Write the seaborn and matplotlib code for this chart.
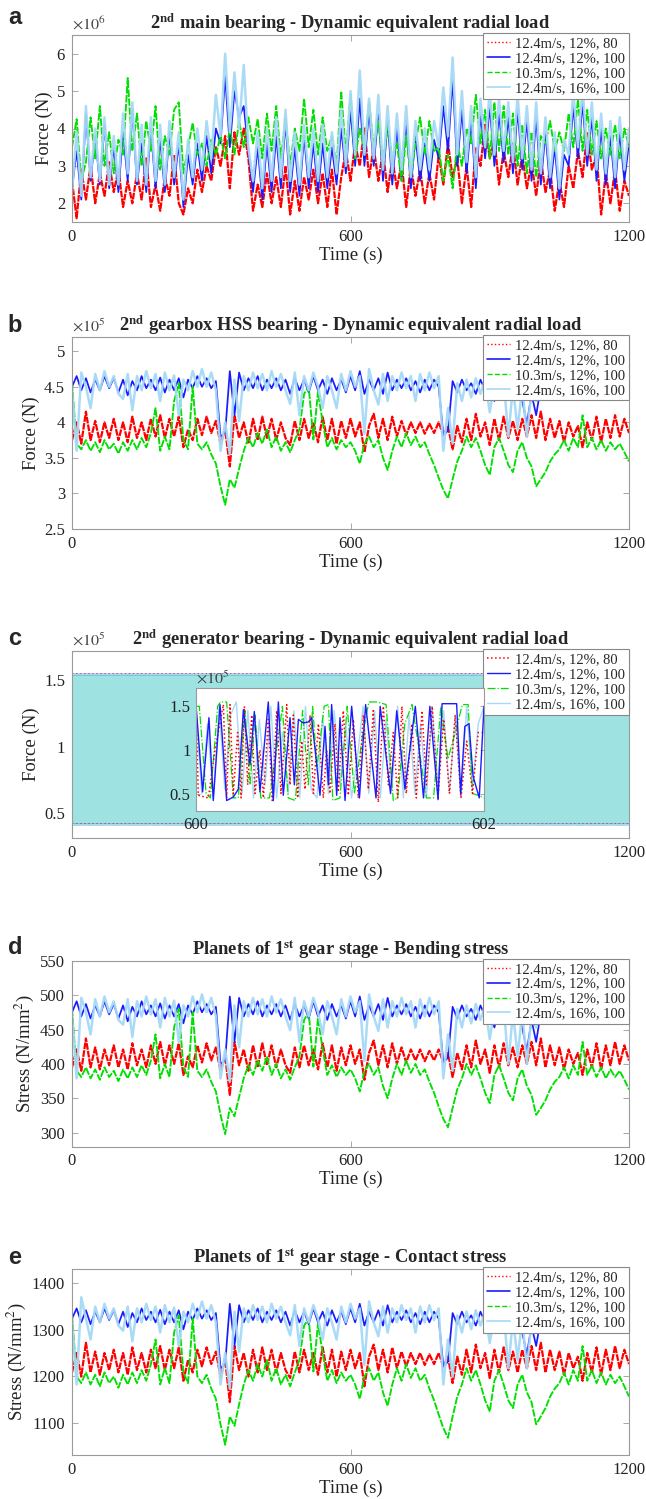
import numpy as np
import seaborn as sns
import matplotlib
matplotlib.use("Agg")
import matplotlib.pyplot as plt
from matplotlib.ticker import FuncFormatter
from matplotlib.lines import Line2D

sns.set_style("ticks")
plt.rcParams['font.family'] = ['Liberation Serif', 'DejaVu Serif']
plt.rcParams['mathtext.fontset'] = 'stix'

# ---------------- data ----------------
time_s = np.arange(0, 1201, 10)          # sampling grid (s)
series_labels = ["12.4m/s, 12%, 80", "12.4m/s, 12%, 100",
                 "10.3m/s, 12%, 100", "12.4m/s, 16%, 100"]

# (a) 2nd main bearing, x1e6 N
a_red = [2.6,1.6,2.9,2.1,3.0,2.0,2.8,2.2,3.1,2.3, 2.9,1.9,2.6,2.0,2.8,2.1,3.2,1.9,2.5,1.8,
         2.7,2.2,3.3,2.0,1.7,2.4,2.0,2.9,2.3,3.0, 2.6,3.5,3.0,3.8,2.4,3.9,3.3,4.0,3.2,1.8,
         2.5,1.9,2.8,2.0,2.7,1.9,3.0,1.7,2.6,1.8, 2.7,2.1,2.9,2.0,2.8,1.9,2.9,1.7,2.7,3.4,
         2.6,3.6,3.0,4.0,2.7,3.5,2.6,3.4,2.3,3.2, 2.4,3.1,1.9,3.0,2.2,2.9,2.0,2.8,2.1,3.3,
         2.5,3.6,2.7,3.2,2.0,3.0,1.9,3.5,3.0,4.1, 3.2,3.7,2.5,3.4,2.7,3.6,2.5,3.3,2.4,3.1,
         2.2,3.2,2.3,2.9,1.8,2.6,1.9,3.0,2.4,3.4, 2.7,3.9,2.9,3.3,1.7,2.8,2.0,2.9,1.8,2.6,
         2.2]
a_blue = [2.4,3.4,2.1,4.4,2.6,3.8,2.5,4.1,2.4,3.5, 2.3,3.9,2.6,4.5,2.5,3.6,2.3,4.0,2.4,3.7,
          2.3,3.9,2.5,3.6,1.9,3.3,2.5,3.6,2.6,3.8, 2.8,4.0,3.6,5.4,3.5,5.0,4.3,4.6,3.4,2.3,
          3.5,2.1,3.6,2.3,3.8,2.4,4.2,2.3,3.5,2.2, 3.8,2.4,3.6,2.3,3.6,2.4,3.5,2.5,4.0,2.8,
          4.5,3.0,4.8,3.0,4.5,3.0,4.4,2.6,4.2,2.5, 4.0,2.6,4.2,2.4,3.8,2.6,3.6,2.6,3.7,3.2,
          4.6,3.4,5.3,3.0,4.5,2.8,4.2,2.4,4.4,3.2, 4.6,3.0,4.4,3.1,4.3,2.8,4.5,2.9,4.2,2.6,
          4.3,2.5,3.9,2.4,3.5,2.1,3.3,3.0,4.6,3.2, 4.7,3.0,4.3,2.6,4.0,2.5,3.8,2.4,3.9,2.6,
          3.6]
a_green = [3.5,4.25,2.6,3.1,4.3,3.2,4.6,3.0,3.9,2.8, 3.7,3.3,5.35,3.4,4.4,3.0,4.2,3.4,4.6,2.9,
           3.8,3.3,4.5,4.7,2.8,3.5,4.15,3.3,3.6,3.0, 3.7,3.3,3.8,3.2,4.0,3.3,4.2,3.5,4.3,3.6,
           4.25,3.2,4.4,3.4,4.6,3.2,4.3,3.0,4.0,3.4, 4.8,3.5,4.5,3.3,4.3,3.4,3.8,3.0,5.0,3.3,
           4.9,3.2,4.0,3.4,4.7,3.5,4.2,3.0,4.1,3.2, 3.6,2.6,3.8,2.7,3.6,4.3,3.3,4.2,3.4,3.5,
           2.6,3.3,2.4,3.6,3.0,4.0,3.6,4.9,3.6,4.5, 3.2,4.7,3.4,4.6,3.3,4.4,3.0,4.1,2.8,3.9,
           2.7,3.8,3.6,4.2,3.4,3.9,3.4,4.4,3.5,4.77, 3.4,4.5,3.3,4.2,3.2,4.0,3.3,4.1,3.2,4.0,
           3.5]
a_cyan = [2.3,3.9,2.2,4.6,2.7,4.0,2.6,4.3,2.5,3.8, 2.5,4.4,2.8,4.7,2.6,4.1,2.5,4.3,2.6,4.1,
          2.5,4.2,2.7,3.9,2.1,3.7,2.7,4.0,2.9,4.2, 3.2,4.9,3.8,6.0,3.9,5.5,4.0,5.7,3.5,2.6,
          3.9,2.4,4.0,2.6,4.3,2.7,4.5,2.6,3.9,2.5, 4.1,2.7,4.0,2.6,4.1,2.7,3.9,2.8,4.5,3.0,
          5.0,3.3,5.55,3.3,4.8,3.2,4.9,2.9,4.6,2.8, 4.4,2.9,4.6,2.7,4.2,2.9,4.0,2.9,4.2,3.5,
          5.1,3.8,5.9,3.3,5.0,3.1,4.6,2.7,4.8,3.5, 5.0,3.3,4.8,3.4,4.7,3.1,4.9,3.2,4.6,2.9,
          4.7,2.8,4.3,2.7,3.9,2.4,3.7,3.3,5.0,3.5, 5.1,3.3,4.7,2.9,4.4,2.8,4.2,2.7,4.3,2.9,
          4.0]

# (b) 2nd gearbox HSS bearing, x1e5 N
b_red = [3.75,4.0,3.7,4.15,3.75,4.02,3.72,4.0,3.78,4.05, 3.75,4.0,3.72,4.08,3.78,4.0,3.75,4.05,3.8,4.1,
         3.78,4.05,3.8,4.08,3.65,3.9,3.75,4.05,3.82,4.08, 3.85,4.02,3.7,3.9,3.38,4.1,3.78,4.0,3.7,4.05,
         3.75,4.08,3.78,4.05,3.75,4.0,3.78,3.68,4.02,3.75, 4.05,3.78,4.0,3.72,4.08,3.75,4.05,3.7,4.02,3.78,
         4.05,3.8,4.0,3.58,3.95,4.12,3.78,4.05,3.75,4.08, 3.8,4.02,3.82,4.0,3.85,4.0,3.84,3.98,3.85,4.0,
         3.82,3.95,3.62,3.95,3.72,4.05,3.75,4.12,3.8,4.0, 3.68,4.05,3.75,4.08,3.78,4.02,3.75,4.05,3.8,4.1,
         3.78,4.15,3.75,4.05,3.78,4.02,3.72,4.0,3.8,3.95, 3.65,4.0,3.75,4.08,3.72,4.05,3.78,4.1,3.8,4.05,
         3.85]
b_blue = [4.5,4.65,4.45,4.62,4.42,4.6,4.45,4.65,4.48,4.62, 4.42,4.6,4.38,4.58,4.45,4.65,4.48,4.6,4.45,4.63,
          4.42,4.6,4.45,4.62,4.35,4.6,4.48,4.65,4.5,4.62, 4.48,4.58,3.8,3.85,4.72,4.1,4.7,4.45,4.62,4.48,
          4.65,4.45,4.6,4.48,4.62,4.45,4.6,4.4,4.62,4.45, 4.6,4.42,4.65,4.45,4.6,4.4,4.62,4.45,4.6,4.42,
          4.65,4.45,4.72,4.4,4.6,4.45,4.62,4.4,4.7,4.45, 4.6,4.48,4.62,4.45,4.58,4.42,4.6,4.45,4.6,4.5,
          3.82,3.88,4.58,4.42,4.6,4.45,4.55,4.4,4.6,4.45, 4.5,4.3,4.55,4.4,4.6,4.42,4.55,4.3,3.98,4.4,
          4.1,4.5,4.4,4.6,4.45,4.6,4.42,4.58,4.45,4.6, 4.4,4.62,4.45,4.6,4.42,4.58,4.45,4.6,4.42,4.58,
          4.45]
b_green = [4.55,3.7,3.62,3.75,3.6,3.72,3.58,3.75,3.62,3.7, 3.56,3.72,3.6,3.75,3.62,3.78,3.65,3.85,4.2,3.6,
           3.8,3.62,4.3,4.55,3.75,3.62,4.5,3.7,3.62,3.72, 3.55,3.42,3.1,2.84,3.2,3.08,3.35,3.6,3.78,3.65,
           3.85,3.7,3.9,3.65,3.8,3.6,3.72,3.58,3.75,3.9, 4.4,4.5,3.76,4.43,4.0,3.65,3.78,3.62,3.75,3.65,
           3.72,3.6,3.42,3.7,3.8,3.65,3.75,3.5,3.33,3.6, 3.8,3.65,3.85,3.68,3.8,3.65,3.72,3.55,3.4,3.22,
           3.05,2.93,3.2,3.45,3.6,3.8,3.65,3.78,3.6,3.4, 3.26,3.65,3.78,3.6,3.4,3.3,3.6,3.72,3.5,3.38,
           3.1,3.2,3.3,3.45,3.55,3.62,3.75,3.6,3.78,3.65, 4.1,3.65,3.78,3.62,3.75,3.6,3.72,3.62,3.7,3.58,
           3.45]
b_cyan = [4.45,3.6,4.7,4.5,4.2,4.68,4.45,4.72,4.5,4.65, 4.4,4.33,4.68,4.17,4.65,4.45,4.72,4.48,4.68,4.3,
          4.7,4.45,4.66,4.1,4.6,4.45,4.72,4.5,4.75,4.5, 4.7,4.45,3.6,4.0,3.55,4.6,4.02,4.65,4.45,4.7,
          4.48,4.68,4.45,4.72,4.5,4.68,4.45,4.26,4.7,4.1, 4.65,4.45,4.7,4.5,4.2,4.65,4.45,4.2,4.68,4.45,
          4.72,4.5,4.65,3.84,4.75,4.45,4.25,4.68,4.3,4.65, 4.45,4.7,4.48,4.65,4.3,4.68,4.45,4.7,4.48,4.65,
          3.6,4.2,3.7,4.55,4.3,4.6,4.35,4.62,4.4,4.6, 4.14,4.55,4.35,4.6,3.8,4.5,3.9,4.5,3.8,4.45,
          4.3,4.6,4.4,4.62,4.45,4.6,4.4,4.62,4.45,4.4, 4.6,4.42,4.62,4.45,4.6,4.42,4.62,4.45,4.6,4.42,
          4.55]

# (c) 2nd generator bearing, x1e5 N : full-record band limits
c_span_t = [0, 1200]
c_band_low = [0.42, 0.42]
c_band_high = [1.55, 1.55]
# inset 600-602 s
ins_blue_t = [600.0,600.046,600.09,600.12,600.167,600.213,600.259,600.294,600.329,600.375,600.405,600.444,
              600.502,600.537,600.572,600.606,600.653,600.683,600.711,600.745,600.78,600.803,600.861,600.896,
              600.919,600.942,600.977,601.0,601.035,601.081,601.135,601.178,601.25,601.279,601.351,601.394,
              601.451,601.523,601.58,601.624,601.681,601.709,601.81,601.838,601.867,601.896,601.924,601.967,602.0]
ins_blue = [1.52,0.52,1.37,0.42,1.52,0.42,0.46,0.55,1.46,0.83,1.44,0.52,1.55,0.42,1.55,0.48,1.37,0.6,1.35,
            1.31,1.32,1.37,0.48,1.27,0.6,1.52,0.48,1.37,0.42,1.5,0.45,1.52,0.45,1.5,0.5,1.45,0.55,1.5,0.45,
            1.5,0.43,1.53,1.53,0.5,1.27,1.3,0.7,0.45,1.5]
ins_green_t = [600.0,600.023,600.07,600.1,600.15,600.17,600.213,600.259,600.294,600.34,600.375,600.41,600.45,
               600.51,600.56,600.6,600.64,600.69,600.74,600.78,600.81,600.84,600.89,600.92,600.95,601.0,601.05,
               601.1,601.16,601.2,601.26,601.32,601.37,601.4,601.45,601.5,601.55,601.6,601.65,601.7,601.75,
               601.8,601.85,601.89,601.92,601.96,602.0]
ins_green = [1.5,1.5,0.5,0.45,1.5,1.55,1.55,0.45,0.45,1.45,0.6,1.4,0.45,0.45,1.0,1.5,0.45,0.42,1.45,0.6,
             1.5,0.8,1.5,1.52,0.42,0.45,1.5,0.5,1.2,1.55,1.55,1.52,0.42,0.45,1.3,1.52,1.0,0.45,0.45,1.5,
             0.9,1.2,1.52,1.52,0.5,0.48,0.45]
ins_red_t = [600.0,600.016,600.086,600.132,600.19,600.213,600.236,600.259,600.289,600.313,600.336,600.359,
             600.387,600.41,600.444,600.468,600.502,600.53,600.56,600.59,600.63,600.653,600.676,600.706,
             600.734,600.757,600.792,600.815,600.85,600.884,600.907,600.93,600.965,600.988,601.023,601.058,
             601.093,601.127,601.162,601.197,601.231,601.266,601.301,601.336,601.37,601.4,601.43,601.46,
             601.5,601.53,601.57,601.6,601.64,601.68,601.72,601.76,601.8,601.84,601.88,601.92,601.96,602.0]
ins_red = [1.5,0.48,0.45,1.0,1.52,0.45,1.52,0.5,1.2,0.45,1.5,0.6,1.4,0.5,1.0,0.45,1.35,0.42,1.45,0.5,
           1.52,0.6,1.4,0.45,1.1,0.55,1.4,0.5,1.3,0.45,1.0,0.5,1.3,0.52,1.45,0.48,1.35,0.45,1.4,0.55,
           1.45,0.4,1.5,0.6,1.2,0.45,1.5,0.5,1.3,0.45,1.45,0.6,1.5,0.45,1.35,0.5,1.4,0.45,1.1,0.5,1.2,1.2]
ins_cyan_t = np.linspace(600, 602, 51)
ins_cyan = [1.45,0.5,1.3,0.45,1.5,0.55,1.4,1.55,0.5,1.45,0.45,1.35,0.6,1.5,0.45,1.2,0.5,1.45,0.45,1.5,
            0.55,0.45,1.4,0.5,1.45,0.6,1.3,0.45,0.9,1.5,0.5,1.45,0.45,1.35,0.55,1.5,0.45,1.4,0.5,1.3,
            0.45,1.5,0.6,1.45,0.5,1.4,0.45,1.5,0.55,1.3,1.5]

# (d) planets 1st stage bending stress, N/mm2
d_red = [395,421,390,437,395,424,392,421,398,427, 395,421,392,430,398,421,395,427,400,432,
         398,427,400,430,384,411,395,427,402,430, 405,424,390,411,355,432,398,421,390,427,
         395,430,398,427,395,421,398,387,424,395, 427,398,421,392,430,395,427,390,424,398,
         427,400,421,377,416,434,398,427,395,430, 400,424,402,421,405,421,404,419,405,421,
         402,416,381,416,392,427,395,434,400,421, 387,427,395,430,398,424,395,427,400,432,
         398,437,395,427,398,424,392,421,400,416, 384,421,395,430,392,427,398,432,400,427,
         405]
d_blue = [475,491,469,487,466,485,469,491,472,487, 466,485,462,483,469,491,472,485,469,488,
          466,485,469,487,459,485,472,491,475,487, 472,483,400,405,498,432,496,469,487,472,
          491,469,485,472,487,469,485,464,487,469, 485,466,491,469,485,464,487,469,485,466,
          491,469,498,464,485,469,487,464,496,469, 485,472,487,469,483,466,485,469,485,475,
          402,409,483,466,485,469,480,464,485,469, 475,453,480,464,485,466,480,453,419,464,
          432,475,464,485,469,485,466,483,469,485, 464,487,469,485,466,483,469,485,466,483,
          469]
d_green = [480,390,381,395,379,392,377,395,381,390, 375,392,379,395,381,398,384,405,443,379,
           400,381,453,480,395,381,475,390,381,392, 374,360,326,298,336,324,352,379,398,384,
           405,390,411,384,400,379,392,377,395,411, 464,475,396,467,421,384,398,381,395,384,
           392,379,360,390,400,384,395,368,350,379, 400,384,405,387,400,384,392,374,358,338,
           320,308,336,363,379,400,384,398,379,358, 343,384,398,379,358,347,379,392,368,355,
           326,336,347,363,374,381,395,379,398,384, 432,384,398,381,395,379,392,381,390,377,
           363]
d_cyan = [469,379,496,475,443,494,469,498,475,491, 464,457,494,439,491,469,498,472,494,453,
          496,469,492,432,485,469,498,475,501,475, 496,469,379,421,374,485,424,491,469,496,
          472,494,469,498,475,494,469,449,496,432, 491,469,496,475,443,491,469,443,494,469,
          498,475,491,404,501,469,448,494,453,491, 469,496,472,491,453,494,469,496,472,491,
          379,443,390,480,453,485,459,487,464,485, 436,480,459,485,400,475,411,475,400,469,
          453,485,464,487,469,485,464,487,469,464, 485,466,487,469,485,466,487,469,485,466,
          480]

# (e) planets 1st stage contact stress, N/mm2
e_red = [1208,1250,1199,1272,1208,1253,1203,1250,1213,1257, 1208,1250,1203,1262,1213,1250,1208,1257,1217,1265,
         1213,1257,1217,1262,1190,1235,1208,1257,1221,1262, 1226,1253,1199,1235,1144,1265,1213,1250,1199,1257,
         1208,1262,1213,1257,1208,1250,1213,1196,1253,1208, 1257,1213,1250,1203,1262,1208,1257,1199,1253,1213,
         1257,1217,1250,1178,1242,1268,1213,1257,1208,1262, 1217,1253,1221,1250,1226,1250,1224,1247,1226,1250,
         1221,1242,1185,1242,1203,1257,1208,1268,1217,1250, 1196,1257,1208,1262,1213,1253,1208,1257,1217,1265,
         1213,1272,1208,1257,1213,1253,1203,1250,1217,1242, 1190,1250,1208,1262,1203,1257,1213,1265,1217,1257,
         1226]
e_blue = [1324,1346,1316,1342,1312,1339,1316,1346,1321,1342, 1312,1339,1306,1336,1316,1346,1321,1339,1316,1343,
          1312,1339,1316,1342,1301,1339,1321,1346,1324,1342, 1321,1336,1217,1226,1356,1265,1353,1316,1342,1321,
          1346,1316,1339,1321,1342,1316,1339,1309,1342,1316, 1339,1312,1346,1316,1339,1309,1342,1316,1339,1312,
          1346,1316,1356,1309,1339,1316,1342,1309,1353,1316, 1339,1321,1342,1316,1336,1312,1339,1316,1339,1324,
          1221,1231,1336,1312,1339,1316,1331,1309,1339,1316, 1324,1294,1331,1309,1339,1312,1331,1294,1247,1309,
          1265,1324,1309,1339,1316,1339,1312,1336,1316,1339, 1309,1342,1316,1339,1312,1336,1316,1339,1312,1336,
          1316]
e_green = [1331,1199,1185,1208,1182,1203,1178,1208,1185,1199, 1175,1203,1182,1208,1185,1213,1190,1226,1279,1182,
           1217,1185,1294,1331,1208,1185,1324,1199,1185,1203, 1173,1151,1096,1052,1113,1093,1139,1182,1213,1190,
           1226,1199,1235,1190,1217,1182,1203,1178,1208,1235, 1309,1324,1210,1313,1250,1190,1213,1185,1208,1190,
           1203,1182,1151,1199,1217,1190,1208,1165,1136,1182, 1217,1190,1226,1196,1217,1190,1203,1173,1148,1117,
           1088,1067,1113,1156,1182,1217,1190,1213,1182,1148, 1124,1190,1213,1182,1148,1131,1182,1203,1165,1144,
           1096,1113,1131,1156,1173,1185,1208,1182,1213,1190, 1265,1190,1213,1185,1208,1182,1203,1185,1199,1178,
           1156]
e_cyan = [1316,1182,1370,1324,1279,1350,1316,1356,1324,1346, 1309,1298,1350,1275,1346,1316,1356,1321,1350,1294,
          1353,1316,1348,1265,1339,1316,1356,1324,1361,1324, 1353,1316,1182,1250,1173,1339,1253,1346,1316,1353,
          1321,1350,1316,1356,1324,1350,1316,1288,1353,1265, 1346,1316,1353,1324,1279,1346,1316,1279,1350,1316,
          1356,1324,1346,1224,1361,1316,1286,1350,1294,1346, 1316,1353,1321,1346,1294,1350,1316,1353,1321,1346,
          1182,1279,1199,1331,1294,1339,1301,1342,1309,1339, 1271,1331,1301,1339,1217,1324,1235,1324,1217,1316,
          1294,1339,1309,1342,1316,1339,1309,1342,1316,1309, 1339,1312,1342,1316,1339,1312,1342,1316,1339,1312,
          1331]

# ---------------- styles ----------------
RED, BLUE, GREEN, CYAN = '#ff0000', '#1a1aff', '#00e000', '#a6d9f6'
SPINE = '#9a9a9a'
# drawing styles for dense records (dotted/dashed patterns become near-solid when dense)
styles_ts = [dict(color=RED, lw=1.6, ls=(0, (3, 0.5)), alpha=1.0),
             dict(color=BLUE, lw=1.25, ls='-', alpha=1.0),
             dict(color=GREEN, lw=1.35, ls=(0, (4, 0.8)), alpha=1.0),
             dict(color=CYAN, lw=1.8, ls='-', alpha=0.95)]
legend_ts = [dict(color=RED, lw=1.0, ls=':'), dict(color=BLUE, lw=1.2, ls='-'),
             dict(color=GREEN, lw=1.0, ls='--'), dict(color=CYAN, lw=1.2, ls='-')]
styles_c = [dict(color=RED, lw=1.1, ls=':'),
            dict(color=BLUE, lw=1.0, ls='-'),
            dict(color=GREEN, lw=0.9, ls='-.'),
            dict(color=CYAN, lw=1.0, ls='-')]

W, H = 646, 1499
fig = plt.figure(figsize=(W / 100, H / 100), dpi=100)

def ax_at(left, top, right, bottom):
    return fig.add_axes([left / W, 1 - bottom / H, (right - left) / W, (bottom - top) / H])

def style_axes(ax, ylim, yticks, ylabel, title, offset=None):
    ax.set_xlim(0, 1200)
    ax.set_ylim(*ylim)
    ax.set_xticks([0, 600, 1200])
    ax.set_yticks(yticks)
    ax.yaxis.set_major_formatter(FuncFormatter(lambda v, p: f"{v:g}"))
    ax.tick_params(direction='in', top=True, right=True, length=4, width=0.6,
                   color=SPINE, labelsize=12, labelcolor='#222222', pad=5)
    for s in ax.spines.values():
        s.set_color(SPINE)
        s.set_linewidth(0.8)
    ax.set_xlabel("Time (s)", fontsize=13.5, labelpad=1, color='#222222')
    ax.set_ylabel(ylabel, fontsize=13.5, labelpad=3, color='#222222')
    ax.set_title(title, fontsize=13.3, fontweight='bold', pad=4)
    if offset:
        ax.text(0.0, 1.008, offset, transform=ax.transAxes, ha='left', va='bottom',
                fontsize=11.5, color='#444444')
    ax.grid(False)

def add_legend(ax, styles):
    handles = [Line2D([0], [0], color=s['color'], lw=s['lw'], ls=s['ls']) for s in styles]
    leg = ax.legend(handles, series_labels, loc='upper right', bbox_to_anchor=(1.0, 1.01),
                    borderaxespad=0, fontsize=10.5, frameon=True, fancybox=False,
                    framealpha=1, edgecolor='#888888', borderpad=0.25, labelspacing=0.12,
                    handlelength=1.6, handletextpad=0.35)
    leg.get_frame().set_linewidth(0.8)
    leg.set_zorder(10)

def ts_panel(ax, vals):
    for v, st, lab in zip(vals, styles_ts, series_labels):
        sns.lineplot(x=time_s, y=v, ax=ax, color=st['color'], linewidth=st['lw'],
                     linestyle=st['ls'], label=lab, estimator=None, sort=False,
                     alpha=st['alpha'])
    add_legend(ax, legend_ts)

# panel a
axa = ax_at(72, 35, 629, 222)
ts_panel(axa, [a_red, a_blue, a_green, a_cyan])
style_axes(axa, (1.5, 6.5), [2, 3, 4, 5, 6], "Force (N)",
           r"2$^{\mathbf{nd}}$ main bearing - Dynamic equivalent radial load", r"$\times10^{6}$")

# panel b
axb = ax_at(72, 337, 629, 529)
ts_panel(axb, [b_red, b_blue, b_green, b_cyan])
style_axes(axb, (2.5, 5.2), [2.5, 3, 3.5, 4, 4.5, 5], "Force (N)",
           r"2$^{\mathbf{nd}}$ gearbox HSS bearing - Dynamic equivalent radial load", r"$\times10^{5}$")

# panel c
axc = ax_at(72, 651, 629, 838)
axc.fill_between(c_span_t, c_band_low, c_band_high, color='#a5e4ec', lw=0, zorder=1)
axc.fill_between(c_span_t, c_band_low, c_band_high, color=GREEN, alpha=0.04, lw=0, zorder=1)
for st, lab in zip(styles_c, series_labels):
    sns.lineplot(x=c_span_t, y=c_band_high, ax=axc, color=st['color'], linewidth=st['lw'],
                 linestyle=st['ls'], label=lab, estimator=None, sort=False)
    sns.lineplot(x=c_span_t, y=c_band_low, ax=axc, color=st['color'], linewidth=st['lw'],
                 linestyle=st['ls'], estimator=None, sort=False)
add_legend(axc, styles_c)
style_axes(axc, (0.315, 1.72), [0.5, 1, 1.5], "Force (N)",
           r"2$^{\mathbf{nd}}$ generator bearing - Dynamic equivalent radial load", r"$\times10^{5}$")

# inset
axi = ax_at(196, 688, 484, 811)
inset_sets = [(ins_cyan_t, ins_cyan, styles_c[3]), (ins_green_t, ins_green, styles_c[2]),
              (ins_red_t, ins_red, styles_c[0]), (ins_blue_t, ins_blue, styles_c[1])]
for tt, vv, st in inset_sets:
    sns.lineplot(x=tt, y=vv, ax=axi, color=st['color'], linewidth=st['lw'],
                 linestyle=st['ls'], estimator=None, sort=False, legend=False)
axi.set_xlim(600, 602)
axi.set_ylim(0.3, 1.71)
axi.set_xticks([600, 602])
axi.set_yticks([0.5, 1, 1.5])
axi.yaxis.set_major_formatter(FuncFormatter(lambda v, p: f"{v:g}"))
axi.tick_params(direction='in', top=True, right=True, length=3, width=0.6, color=SPINE,
                labelsize=12, labelcolor='#222222', pad=4)
axi.set_facecolor('white')
for s in axi.spines.values():
    s.set_color(SPINE)
    s.set_linewidth(0.8)
axi.set_xlabel("")
axi.set_ylabel("")
axi.text(0.0, 1.005, r"$\times10^{5}$", transform=axi.transAxes, ha='left', va='bottom',
         fontsize=11.5, color='#444444')

# panel d
axd = ax_at(72, 960.7, 629, 1146.5)
ts_panel(axd, [d_red, d_blue, d_green, d_cyan])
style_axes(axd, (280, 550), [300, 350, 400, 450, 500, 550], r"Stress (N/mm$^2$)",
           r"Planets of 1$^{\mathbf{st}}$ gear stage - Bending stress")

# panel e
axe = ax_at(72, 1269, 629, 1455)
ts_panel(axe, [e_red, e_blue, e_green, e_cyan])
style_axes(axe, (1030, 1431), [1100, 1200, 1300, 1400], r"Stress (N/mm$^2$)",
           r"Planets of 1$^{\mathbf{st}}$ gear stage - Contact stress")

for lab, ypx in zip("abcde", [17, 325, 638, 948, 1257]):
    fig.text(15 / W, 1 - ypx / H, lab, fontsize=17, fontweight='bold',
             family=['Liberation Sans', 'DejaVu Sans'], ha='center', va='center')

fig.savefig("out.png", dpi=100)
